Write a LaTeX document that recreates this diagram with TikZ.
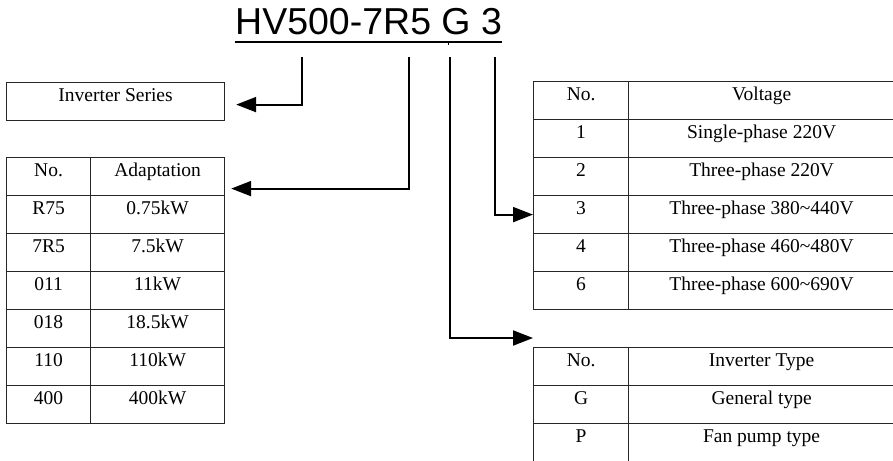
\documentclass[tikz,border=0pt]{standalone}
\usepackage{fontspec}
\setmainfont{Liberation Serif}
\newfontfamily\titlefont{Liberation Sans}
\usetikzlibrary{arrows.meta,positioning}

\begin{document}
\begin{tikzpicture}[x=1pt, y=-1pt,
    cell/.style={draw=black!85, line width=1.2pt, inner sep=0pt, text height=19pt, text depth=19pt, anchor=north west, font=\fontsize{19.5}{22}\selectfont},
    conn/.style={line width=2pt, -{Triangle[length=20pt,width=15pt]}}]
    \useasboundingbox (0,0) rectangle (893,460);
    \clip (0,0) rectangle (893,460);

    % Model code
    \node[anchor=base west, inner sep=0pt, font=\titlefont\fontsize{37.5}{40}\selectfont] (title) at (235,35) {HV500-7R5 G 3};
    \draw[line width=2.2pt] ([yshift=-6.7pt]title.base west) -- ([yshift=-6.7pt]title.base east);
    \coordinate (tick) at (448,42);
    \draw[line width=0.8pt] (tick) -- ++(0,3);
    \coordinate (s1) at (302,57);
    \coordinate (s2) at (409,57);
    \coordinate (s3) at (450,57);
    \coordinate (s4) at (495,57);

    % Series box
    \node[cell, minimum width=218pt] (series) at (6,82) {Inverter Series};

    % Adaptation table
    \node[cell, minimum width=84pt] (a0) at (6,157) {No.};
    \node[cell, minimum width=134pt] (b0) at (90,157) {Adaptation};
    \foreach \code/\power [count=\i] in {R75/0.75kW, 7R5/7.5kW, 011/11kW, 018/18.5kW, 110/110kW, 400/400kW}{
        \node[cell, minimum width=84pt] (a\i) at (6,157+38*\i) {\code};
        \node[cell, minimum width=134pt] (b\i) at (90,157+38*\i) {\power};
    }

    % Voltage table
    \node[cell, minimum width=95pt] (v0) at (533,81) {No.};
    \node[cell, minimum width=266pt] (w0) at (628,81) {Voltage};
    \foreach \no/\volt [count=\i] in {1/Single-phase 220V, 2/Three-phase 220V, 3/Three-phase 380\textasciitilde440V, 4/Three-phase 460\textasciitilde480V, 6/Three-phase 600\textasciitilde690V}{
        \node[cell, minimum width=95pt] (v\i) at (533,81+38*\i) {\no};
        \node[cell, minimum width=266pt] (w\i) at (628,81+38*\i) {\volt};
    }

    % Type table
    \node[cell, minimum width=95pt] (t0) at (533,347) {No.};
    \node[cell, minimum width=266pt] (u0) at (628,347) {Inverter Type};
    \foreach \no/\kind [count=\i] in {G/General type, P/Fan pump type}{
        \node[cell, minimum width=95pt] (t\i) at (533,347+38*\i) {\no};
        \node[cell, minimum width=266pt] (u\i) at (628,347+38*\i) {\kind};
    }

    % Edges
    \draw[conn] (s1) |- ([xshift=11pt,yshift=-3pt]series.east);
    \draw[conn] (s2) |- ([xshift=6pt,yshift=-12pt]b0.east);
    \draw[conn] (s4) |- (v3.west);
    \draw[conn] (s3) |- ([yshift=9pt]t0.north west);
\end{tikzpicture}
\end{document}
